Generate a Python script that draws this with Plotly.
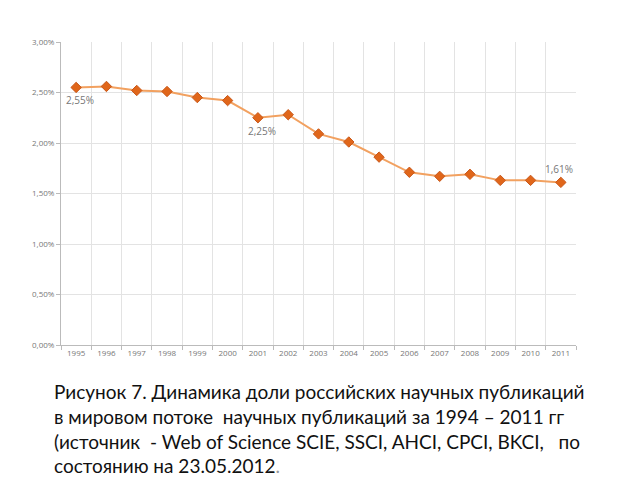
import plotly.graph_objects as go

years = [str(y) for y in range(1995, 2012)]
share = [2.55, 2.56, 2.52, 2.51, 2.45, 2.42, 2.25, 2.28, 2.09, 2.01,
         1.86, 1.71, 1.67, 1.69, 1.63, 1.63, 1.61]
labeled = {"1995": -1, "2001": -1, "2011": 1}  # label below (-1) or above (1)

caption = [
    "Рисунок 7. Динамика доли российских научных публикаций",
    "в мировом потоке  научных публикаций за 1994 – 2011 гг",
    "(источник  - Web of Science SCIE, SSCI, AHCI, CPCI, BKCI,   по",
    "состоянию на 23.05.2012<span style='color:#999999'>.</span>",
]

# page body has an 8px margin, so the figure is a bit smaller than the window
W, H = 632, 472
L, T, R, B = 53, 34, 64, 135
pw, ph = W - L - R, H - T - B

fig = go.Figure()
fig.add_trace(go.Scatter(
    x=years, y=share, mode="lines+markers",
    line=dict(color="#F2A160", width=2),
    marker=dict(symbol="diamond", size=8, color="#E0661A",
                line=dict(color="#C9581A", width=1)),
    showlegend=False,
))

for yr, pos in labeled.items():
    i = years.index(yr)
    v = share[i]
    fig.add_annotation(
        x=i, y=v, text=f"{v:.2f}%".replace(".", ","), showarrow=False,
        yshift=13 * pos, xshift=4 if yr != "2011" else -2,
        font=dict(family="Open Sans", size=10, color="#777777"),
    )

line_y = [383, 408, 433, 457]
for txt, py in zip(caption, line_y):
    fig.add_annotation(
        xref="paper", yref="paper", x=(44 - L) / pw, y=(H - B - py) / ph,
        xanchor="left", yanchor="middle", text=txt, showarrow=False,
        font=dict(family="Lato", size=19, color="#111111"),
    )

fig.update_layout(
    width=W, height=H,
    margin=dict(l=L, r=R, t=T, b=B),
    plot_bgcolor="white", paper_bgcolor="white",
    separators=", ",
)
fig.update_xaxes(
    type="category", range=[-0.5, len(years) - 0.5],
    tickson="boundaries", showgrid=True, gridcolor="#E3E3E3",
    ticks="outside", ticklen=4, tickcolor="#BBBBBB", tickangle=0,
    showline=True, linecolor="#BBBBBB",
    tickfont=dict(family="Open Sans", size=8, color="#777777"),
)
fig.update_yaxes(
    range=[0, 3], dtick=0.5, tickformat=".2f", ticksuffix="%",
    showgrid=True, gridcolor="#E3E3E3", zeroline=False,
    ticks="outside", ticklen=4, tickcolor="#BBBBBB",
    showline=True, linecolor="#BBBBBB",
    tickfont=dict(family="Open Sans", size=8, color="#777777"),
)

fig.write_html("out.html")
